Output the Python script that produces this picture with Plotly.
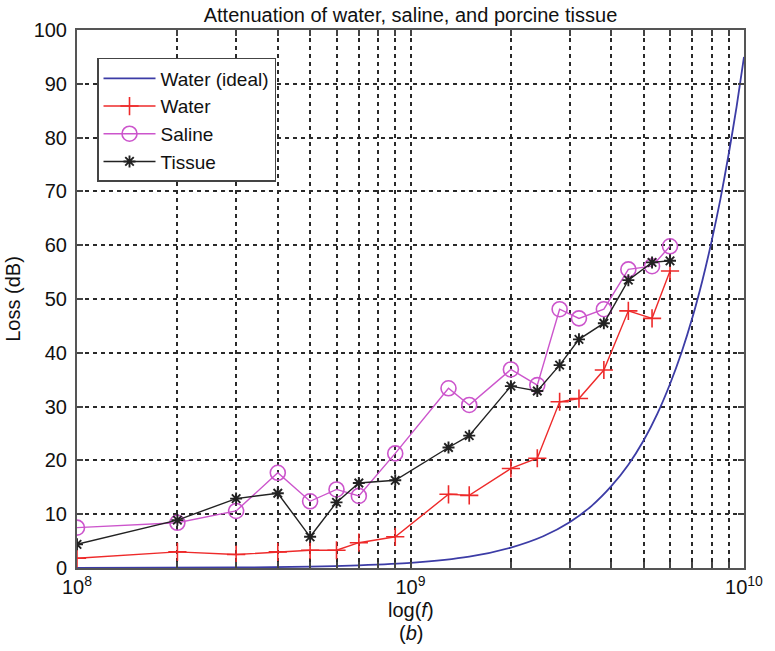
import plotly.graph_objects as go

# Measured frequencies (Hz)
freq = [1e8, 2e8, 3e8, 4e8, 5e8, 6e8, 7e8, 9e8, 1.3e9, 1.5e9, 2e9, 2.4e9,
        2.8e9, 3.2e9, 3.8e9, 4.5e9, 5.3e9, 6e9]
water = [1.8, 3.0, 2.5, 3.0, 3.3, 3.3, 4.7, 5.8, 13.7, 13.5, 18.5, 20.4,
         30.9, 31.5, 36.8, 47.8, 46.4, 55.2]
saline = [7.5, 8.4, 10.6, 17.7, 12.4, 14.6, 13.4, 21.3, 33.4, 30.3, 36.9, 34.0,
          48.1, 46.4, 48.1, 55.5, 56.1, 59.8]
tissue = [4.4, 8.9, 12.9, 13.9, 5.8, 12.2, 15.8, 16.3, 22.4, 24.6, 33.8, 32.9,
          37.7, 42.5, 45.5, 53.5, 56.8, 57.1]

# Ideal water curve
ideal_freq = [1e8, 3e8, 5e8, 7e8, 1e9, 1.5e9, 2e9, 2.5e9, 3e9, 3.5e9, 4e9,
              4.5e9, 5e9, 5.5e9, 6e9, 6.5e9, 7e9, 7.5e9, 8e9, 8.5e9, 9e9,
              9.5e9, 1e10]
ideal = [0.0, 0.1, 0.25, 0.5, 0.95, 2.1, 3.8, 5.9, 8.5, 11.6, 15.2, 19.2,
         23.7, 28.7, 34.2, 40.1, 46.5, 53.4, 60.8, 68.6, 77.0, 85.7, 95.0]

grid_vals = [m * 10 ** e for e in (8, 9) for m in range(1, 10)] + [1e10]
grid_text = ["10<sup>8</sup>" if v == 1e8 else "10<sup>9</sup>" if v == 1e9
             else "10<sup>10</sup>" if v == 1e10 else "" for v in grid_vals]
y_ticks = list(range(0, 101, 10))

FONT = "Liberation Sans, Arial, Helvetica, sans-serif"

fig = go.Figure()
fig.add_trace(go.Scatter(x=ideal_freq, y=ideal, mode="lines", name="Water (ideal)",
                         line=dict(color="#3c3ca6", width=1.8, shape="spline", smoothing=0.6)))
fig.add_trace(go.Scatter(x=freq, y=water, mode="lines+markers", name="Water",
                         line=dict(color="#ee2a2a", width=1.4),
                         marker=dict(symbol="cross-thin", size=13,
                                     line=dict(color="#ee2a2a", width=1.6))))
fig.add_trace(go.Scatter(x=freq, y=saline, mode="lines+markers", name="Saline",
                         line=dict(color="#cc55cc", width=1.4),
                         marker=dict(symbol="circle-open", size=15,
                                     line=dict(color="#cc55cc", width=1.6))))
fig.add_trace(go.Scatter(x=freq, y=tissue, mode="lines+markers", name="Tissue",
                         line=dict(color="#222222", width=1.4),
                         marker=dict(symbol="asterisk-open", size=10,
                                     line=dict(color="#111111", width=1.9))))

axis_common = dict(showline=True, linecolor="#555555", linewidth=2, mirror="allticks",
                   ticks="inside", ticklen=6, tickcolor="#444444", tickwidth=1.5,
                   showgrid=True, gridcolor="#2a2a2a", gridwidth=1.8, griddash="4px,4px",
                   zeroline=False, tickfont=dict(family=FONT, size=20, color="#111111"))

fig.update_layout(
    width=775, height=651,
    margin=dict(l=71, r=22, t=30, b=83),
    paper_bgcolor="white", plot_bgcolor="white",
    font=dict(family=FONT, size=20, color="#111111"),
    title=dict(text="Attenuation of water, saline, and porcine tissue",
               x=0.5, xref="paper", y=1 - 15 / 651, yref="container",
               yanchor="middle", xanchor="center",
               font=dict(family=FONT, size=20, color="#111111")),
    xaxis=dict(type="log", range=[8, 10], tickmode="array", tickvals=grid_vals,
               ticktext=grid_text, **axis_common),
    yaxis=dict(range=[0, 100], tickmode="array", tickvals=y_ticks,
               ticklabelstandoff=4,
               title=dict(text="Loss (dB)", font=dict(family=FONT, size=20), standoff=8),
               **axis_common),
    legend=dict(x=0.03, y=0.948, xanchor="left", yanchor="top",
                bgcolor="white", bordercolor="#444444", borderwidth=1.5,
                font=dict(family=FONT, size=19, color="#111111"),
                tracegroupgap=0, itemwidth=52, entrywidth=196),
    showlegend=True,
    annotations=[
        dict(text="log(<i>f</i>)", x=0.5, xref="paper", y=(568 - 610) / 538, yref="paper",
             xanchor="center", yanchor="middle", showarrow=False,
             font=dict(family=FONT, size=20, color="#111111")),
        dict(text="(<i>b</i>)", x=0.5, xref="paper", y=(568 - 633) / 538, yref="paper",
             xanchor="center", yanchor="middle", showarrow=False,
             font=dict(family=FONT, size=20, color="#111111")),
    ],
)

fig.write_html("out.html")
